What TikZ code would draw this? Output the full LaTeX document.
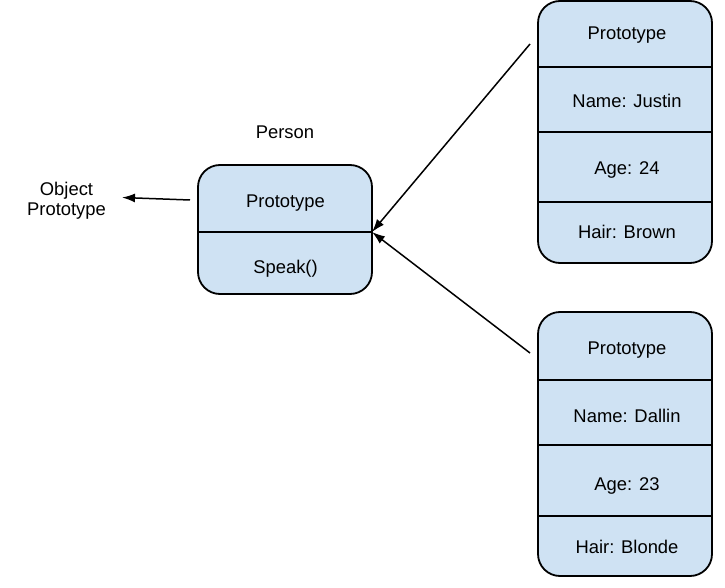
\documentclass[tikz,border=0pt]{standalone}
\usepackage{fontspec}
\setmainfont{Liberation Sans}
\usetikzlibrary{arrows.meta}
\definecolor{boxfill}{HTML}{CFE2F3}
\begin{document}
\begin{tikzpicture}[x=1pt,y=-1pt,
  box/.style={draw=black,fill=boxfill,line width=1.8pt,rounded corners=22pt,minimum width=174pt,inner sep=0pt},
  lbl/.style={font=\fontsize{18.4}{22}\selectfont,inner sep=0pt,text height=13.2pt,text depth=0pt},
  objlbl/.style={font=\fontsize{18.4}{19.3}\selectfont,inner sep=0pt,align=center},
  sep/.style={line width=1.8pt},
  arr/.style={line width=1.5pt,-{Latex[length=13pt,width=9pt]}}]
\useasboundingbox (0,0) rectangle (725,588);
% Person box
\node[box,minimum height=129pt] (person) at (285,229.5) {};
\draw[sep] (person.west |- 0,232) -- (person.east |- 0,232);
\node[lbl] (pproto) at (285.5,201.3) {Prototype};
\node[lbl] (pspeak) at (285.5,266.7) {Speak()};
\node[lbl] (ptitle) at (285,131.7) {Person};
% Justin box
\node[box,minimum height=262pt] (justin) at (625,132) {};
\draw[sep] (justin.west |- 0,67) -- (justin.east |- 0,67);
\draw[sep] (justin.west |- 0,132) -- (justin.east |- 0,132);
\draw[sep] (justin.west |- 0,202) -- (justin.east |- 0,202);
\node[lbl] (jproto) at (627,33.3) {Prototype};
\node[lbl] (jname) at (627,100.7) {Name: Justin};
\node[lbl] (jage) at (627,168.3) {Age: 24};
\node[lbl] (jhair) at (627,231.7) {Hair: Brown};
% Dallin box
\node[box,minimum height=264pt] (dallin) at (625,444) {};
\draw[sep] (dallin.west |- 0,380) -- (dallin.east |- 0,380);
\draw[sep] (dallin.west |- 0,445) -- (dallin.east |- 0,445);
\draw[sep] (dallin.west |- 0,516) -- (dallin.east |- 0,516);
\node[lbl] (dproto) at (627,348.3) {Prototype};
\node[lbl] (dname) at (627,415.7) {Name: Dallin};
\node[lbl] (dage) at (627,483.8) {Age: 23};
\node[lbl] (dhair) at (627,547) {Hair: Blonde};
% Object Prototype
\node[objlbl] (obj) at (66.5,200.7) {Object\\Prototype};
% connectors
\coordinate (pe) at (372,232);
\coordinate (js) at (530,44);
\coordinate (ds) at (530,353);
\coordinate (ls) at (190,200);
\coordinate (oa) at (122,197.5);
\draw[arr] (js) -- (pe);
\draw[arr] (ds) -- (pe);
\draw[arr] (ls) -- (oa);
\end{tikzpicture}
\end{document}
